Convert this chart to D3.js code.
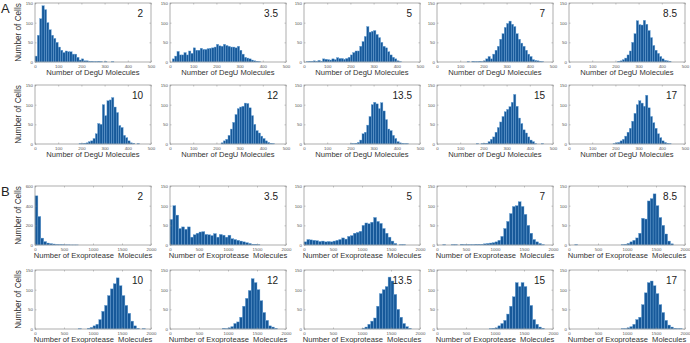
<!DOCTYPE html>
<html>
  <head>
    <meta charset="UTF-8" />
    <script src="https://cdn.jsdelivr.net/npm/d3@7"></script>
    <style>
      body { margin: 0; background: #fff; }
      svg { display: block; font-family: "Liberation Sans", Arial, sans-serif; }
    </style>
  </head>
  <body>
    <svg></svg>
    <script>
      // 1. data: histogram counts, each array starts at the given bin value
      const labelsA = ["2", "3.5", "5", "7", "8.5", "10", "12", "13.5", "15", "17"]
      const labelsB = ["2", "3.5", "5", "7", "8.5", "10", "12", "13.5", "15", "17"]

      // DegU, bins of 10
      const degu_2 = [15, 68, 110, 143, 133, 100, 82, 68, 60, 50, 38, 30, 24, 28, 26, 26, 20, 20, 12, 5, 8, 3, 3, 2, 2, 1, 1, 2, 1, 0, 1, 0, 0, 1]
      const degu_3_5 = [8, 15, 27, 18, 18, 24, 18, 28, 22, 36, 30, 30, 35, 32, 32, 34, 35, 36, 38, 45, 41, 40, 45, 42, 40, 38, 38, 36, 40, 30, 20, 12, 10, 8, 5, 3, 2, 1]
      const degu_5 = [1, 2, 2, 3, 2, 4, 2, 8, 7, 6, 5, 8, 6, 11, 9, 9, 7, 9, 12, 18, 24, 28, 28, 40, 52, 65, 90, 76, 78, 80, 70, 62, 50, 40, 36, 26, 18, 12, 8, 3, 1]
      const degu_7 = [1, 0, 2, 1, 1, 2, 1, 3, 8, 14, 8, 20, 30, 40, 58, 72, 88, 98, 104, 96, 90, 72, 58, 48, 40, 30, 20, 14, 6, 4, 3, 2, 1]
      const degu_8_5 = [2, 3, 6, 10, 18, 28, 50, 72, 105, 95, 94, 106, 96, 80, 62, 42, 30, 22, 14, 8, 4, 3, 2]
      const degu_10 = [1, 1, 2, 3, 6, 8, 14, 26, 52, 50, 100, 72, 110, 112, 118, 94, 80, 47, 42, 22, 16, 8, 3, 2, 0, 1]
      const degu_12 = [3, 8, 12, 22, 38, 55, 75, 90, 94, 96, 104, 103, 92, 72, 50, 34, 28, 20, 14, 8, 4, 2, 1]
      const degu_13_5 = [1, 1, 2, 4, 10, 26, 30, 48, 70, 100, 106, 102, 90, 105, 84, 62, 38, 34, 22, 14, 6, 3, 2, 1, 1]
      const degu_15 = [1, 0, 1, 2, 2, 6, 12, 18, 30, 42, 56, 70, 82, 88, 95, 106, 126, 96, 66, 52, 36, 28, 18, 10, 6, 1, 0, 0, 1]
      const degu_17 = [1, 3, 4, 8, 12, 20, 30, 40, 58, 78, 100, 110, 104, 96, 124, 92, 70, 54, 40, 26, 16, 8, 4, 2, 1]
      const deguStarts = [0, 10, 10, 130, 210, 190, 220, 200, 170, 190]

      // Exoprotease, bins of 50
      const exo_2 = [500, 290, 70, 35, 20, 14, 10, 6, 4, 3, 2, 2, 1, 1, 1]
      const exo_3_5 = [65, 100, 76, 42, 46, 40, 46, 20, 26, 30, 33, 34, 27, 26, 24, 29, 20, 27, 25, 20, 25, 16, 14, 12, 10, 8, 6, 4, 2, 2, 1]
      const exo_5 = [8, 14, 13, 12, 11, 9, 10, 8, 9, 8, 10, 12, 14, 18, 15, 22, 24, 30, 32, 35, 50, 56, 54, 58, 70, 60, 55, 42, 30, 20, 10, 4, 0, 1, 1]
      const exo_7 = [1, 0, 0, 1, 1, 0, 2, 1, 1, 1, 1, 2, 2, 2, 3, 4, 5, 6, 8, 12, 22, 42, 60, 80, 98, 100, 110, 98, 78, 50, 30, 14, 8, 4, 1]
      const exo_8_5 = [1, 0, 0, 0, 0, 0, 0, 0, 0, 0, 0, 0, 0, 0, 0, 0, 1, 2, 4, 8, 12, 18, 30, 68, 66, 112, 118, 130, 100, 70, 50, 28, 10, 3]
      const exo_10 = [1, 0, 0, 2, 4, 8, 12, 24, 45, 60, 85, 102, 115, 130, 110, 85, 60, 40, 20, 8, 2, 0, 1]
      const exo_12 = [2, 1, 3, 6, 14, 18, 30, 58, 78, 98, 128, 118, 100, 72, 42, 22, 8, 5, 2]
      const exo_13_5 = [2, 5, 12, 20, 28, 58, 90, 100, 108, 132, 122, 88, 50, 30, 14, 6, 2]
      const exo_15 = [1, 2, 3, 8, 14, 22, 38, 58, 82, 118, 108, 118, 108, 82, 60, 24, 12, 5, 2]
      const exo_17 = [1, 1, 3, 6, 12, 24, 30, 62, 92, 118, 122, 110, 90, 62, 42, 22, 10, 5, 2, 1, 1]
      const exoStarts = [0, 0, 0, 100, 100, 750, 900, 1000, 900, 900]

      const deguTicksX = [0, 100, 200, 300, 400, 500]
      const exoTicksX = [0, 500, 1000, 1500, 2000]

      // 2. layout
      const width = 690
      const height = 343
      const colX = [35, 170, 304, 437, 569]
      const rowY = [3, 85, 186, 270]
      const pw = 116
      const ph = 59

      const svg = d3.select("svg").attr("width", width).attr("height", height)

      const degu = [degu_2, degu_3_5, degu_5, degu_7, degu_8_5, degu_10, degu_12, degu_13_5, degu_15, degu_17]
      const exo = [exo_2, exo_3_5, exo_5, exo_7, exo_8_5, exo_10, exo_12, exo_13_5, exo_15, exo_17]

      const panels = []
      degu.forEach((c, i) => panels.push({
        counts: c, start: deguStarts[i], bin: 10, xmax: 500, xticks: deguTicksX,
        ymax: 150, yticks: [0, 50, 100, 150], label: labelsA[i],
        xlabel: "Number of DegU Molecules", row: Math.floor(i / 5), col: i % 5
      }))
      exo.forEach((c, i) => panels.push({
        counts: c, start: exoStarts[i], bin: 50, xmax: 2000, xticks: exoTicksX,
        ymax: i === 0 ? 600 : 150, yticks: i === 0 ? [0, 200, 400, 600] : [0, 50, 100, 150],
        label: labelsB[i], xlabel: "Number of Exoprotease  Molecules",
        row: 2 + Math.floor(i / 5), col: i % 5
      }))

      const fmt = d3.format("d")

      // 3. draw each histogram
      panels.forEach((p) => {
        const g = svg.append("g").attr("transform", `translate(${colX[p.col]},${rowY[p.row]})`)
        const x = d3.scaleLinear().domain([0, p.xmax]).range([0, pw])
        const y = d3.scaleLinear().domain([0, p.ymax]).range([ph, 0])
        const bins = p.counts.map((n, k) => ({ x0: p.start + k * p.bin, x1: p.start + (k + 1) * p.bin, n }))

        g.append("g")
          .selectAll("rect")
          .data(bins.filter((d) => d.n > 0))
          .join("rect")
          .attr("x", (d) => x(d.x0))
          .attr("width", (d) => x(d.x1) - x(d.x0))
          .attr("y", (d) => y(d.n))
          .attr("height", (d) => y(0) - y(d.n))
          .attr("fill", "#17599a")
          .attr("stroke", "#6aa4d8")
          .attr("stroke-width", 0.4)

        const styleAxis = (a) => {
          a.select(".domain").remove()
          a.selectAll(".tick line").attr("stroke", "#888").attr("stroke-width", 0.5)
          a.selectAll(".tick text").attr("font-size", 4.4).attr("fill", "#555").attr("font-family", null)
        }

        g.append("g").attr("transform", `translate(0,${ph})`)
          .call(d3.axisBottom(x).tickValues(p.xticks).tickFormat(fmt).tickSize(-1.5).tickPadding(3))
          .call(styleAxis)
        g.append("g")
          .call(d3.axisTop(x).tickValues(p.xticks).tickSize(-1.5).tickFormat(""))
          .call(styleAxis)
        g.append("g")
          .call(d3.axisLeft(y).tickValues(p.yticks).tickFormat(fmt).tickSize(-1.5).tickPadding(2))
          .call(styleAxis)
        g.append("g").attr("transform", `translate(${pw},0)`)
          .call(d3.axisRight(y).tickValues(p.yticks).tickSize(-1.5).tickFormat(""))
          .call(styleAxis)

        g.append("rect")
          .attr("width", pw).attr("height", ph)
          .attr("fill", "none").attr("stroke", "#9a9a9a").attr("stroke-width", 0.8)

        g.append("text")
          .attr("x", pw - 8).attr("y", 14)
          .attr("text-anchor", "end").attr("font-size", 10).attr("fill", "#222")
          .text(p.label)

        g.append("text")
          .attr("x", pw / 2).attr("y", ph + 13)
          .attr("text-anchor", "middle").attr("font-size", 7.6).attr("fill", "#333")
          .style("white-space", "pre")
          .text(p.xlabel)

        if (p.col === 0) {
          g.append("text")
            .attr("transform", `translate(-14,${ph / 2}) rotate(-90)`)
            .attr("text-anchor", "middle").attr("font-size", 8.2).attr("fill", "#333")
            .text("Number of Cells")
        }
      })

      // 4. panel letters
      svg.append("text").attr("x", 1).attr("y", 13).attr("font-size", 13).attr("fill", "#222").text("A")
      svg.append("text").attr("x", 1).attr("y", 196).attr("font-size", 13).attr("fill", "#222").text("B")
    </script>
  </body>
</html>
